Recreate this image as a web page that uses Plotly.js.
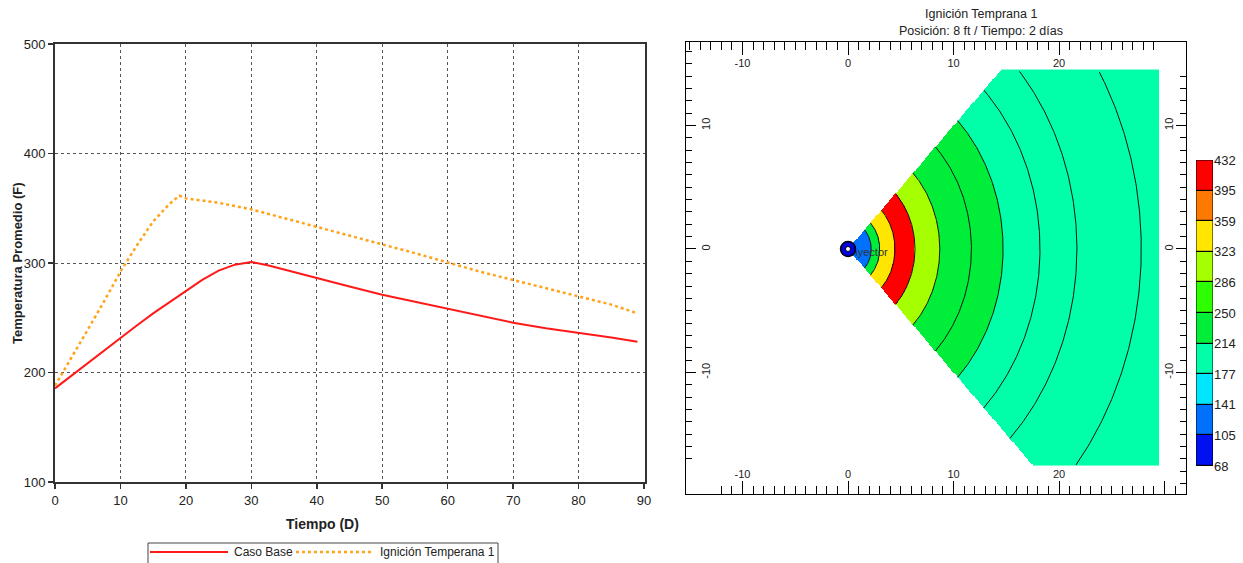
<!DOCTYPE html>
<html>
<head>
<meta charset="utf-8">
<script src="https://cdn.plot.ly/plotly-3.0.1.min.js"></script>
<style>html,body{margin:0;padding:0;background:#fff;}#chart{width:1243px;height:563px;}</style>
</head>
<body>
<div id="chart"></div>
<script>
// ---------- Left chart data ----------
const days = [0, 2.5, 5, 7.5, 10, 12.5, 15, 17.5, 19, 20, 22.5, 25, 27.5, 30, 32.5, 35, 40, 45, 50, 55, 60, 65, 70, 75, 80, 85, 89];
const casoBase = [185.5, 197, 208.5, 220, 232, 243, 254, 264, 270, 274, 284.5, 293, 298.5, 301, 298, 294, 286, 278.5, 271, 264.5, 258, 251.5, 245.5, 240.5, 236.3, 232, 228];
const ignicion = [188, 213, 239, 265, 292, 316, 338, 354, 361.5, 359, 357, 355, 352, 349, 345, 341, 333.5, 325.5, 317.5, 309, 300.5, 292, 284.5, 277, 269.5, 262, 254];
const seriesNames = ['Caso Base', 'Ignición Temperana 1'];
const seriesColors = ['#FF1A1A', '#FFA31A'];

// ---------- Right map data ----------
const levelValues = [68, 104.4, 140.8, 177.2, 213.6, 250, 286.4, 322.8, 359.2, 395.6, 432];
const levelLabels = ['68', '105', '141', '177', '214', '250', '286', '323', '359', '395', '432'];
const levelColors = ['#0010F0', '#0070FF', '#00E6FF', '#00FFA8', '#00EE3A', '#2EFF00', '#A6FF00', '#FFE600', '#FF7800', '#FF0000'];
// radial temperature bands around the injector (outer radius in ft, temperature F)
const bandOuterRadius = [0.7, 2.2, 3.0, 4.45, 6.35, 8.7, 11.7, 14.7, 40];
const bandTemp = [86, 123, 232, 341, 414, 305, 232, 232, 196];
// contour lines (radius in ft)
const contourRadii = [0.7, 2.2, 3.0, 4.45, 6.35, 8.7, 11.7, 14.7, 18.2, 21.7, 27.8];
// simulated grid extent
const gridXMax = 29.5, gridYMax = 14.5, gridYMin = -17.57, gridStep = 0.1;
// map tick labels
const mapXTicks = [-10, 0, 10, 20, 30];
const mapXTickText = ['-10', '0', '10', '20', ''];
const mapYTicks = [-10, 0, 10];
const mapYTickText = ['-10', '0', '10'];

const W = 1243, H = 563;
const px = v => v / W;
const py = v => 1 - v / H;

const narrow = 'Liberation Sans Narrow, Arial Narrow, Liberation Sans, Arial, sans-serif';
const arial = 'Liberation Sans, Arial, sans-serif';

// heatmap grid
const gx = [], gy = [];
for (let i = 0; i * gridStep < gridXMax - 1e-9; i++) gx.push(+(gridStep / 2 + i * gridStep).toFixed(3));
for (let j = 0; gridYMin + j * gridStep < gridYMax - 1e-9; j++) gy.push(+(gridYMin + gridStep / 2 + j * gridStep).toFixed(3));
function tempAt(r) {
  for (let k = 0; k < bandOuterRadius.length; k++) if (r <= bandOuterRadius[k]) return bandTemp[k];
  return bandTemp[bandTemp.length - 1];
}
const gz = gy.map(y => gx.map(x => (Math.abs(y) <= x ? tempAt(Math.hypot(x, y)) : null)));

const cscale = [];
levelColors.forEach((c, i) => { cscale.push([i / 10, c]); cscale.push([(i + 1) / 10, c]); });

// contour arcs
const ax = [], ay = [];
contourRadii.forEach(r => {
  for (let d = -45; d <= 45.001; d += 0.5) {
    const t = d * Math.PI / 180;
    const x = r * Math.cos(t), y = r * Math.sin(t);
    if (y <= gridYMax && y >= gridYMin && x <= gridXMax) { ax.push(x); ay.push(y); }
    else { ax.push(null); ay.push(null); }
  }
  ax.push(null); ay.push(null);
});

const traces = [
  { x: days, y: casoBase, name: seriesNames[0], type: 'scatter', mode: 'lines',
    line: { color: seriesColors[0], width: 2 }, xaxis: 'x', yaxis: 'y' },
  { x: days, y: ignicion, name: seriesNames[1], type: 'scatter', mode: 'lines',
    line: { color: seriesColors[1], width: 2.5, dash: 'dot' }, xaxis: 'x', yaxis: 'y' },
  { type: 'heatmap', x: gx, y: gy, z: gz, colorscale: cscale, zmin: 68, zmax: 432,
    showscale: false, hoverinfo: 'skip', xaxis: 'x2', yaxis: 'y2', showlegend: false },
  { x: ax, y: ay, type: 'scatter', mode: 'lines', line: { color: '#111', width: 1 },
    hoverinfo: 'skip', showlegend: false, xaxis: 'x2', yaxis: 'y2', connectgaps: false },
  { x: [0.05], y: [-0.35], type: 'scatter', mode: 'text', text: ['Inyector'], textposition: 'middle right',
    textfont: { family: narrow, size: 11, color: '#333' }, showlegend: false, hoverinfo: 'skip', xaxis: 'x2', yaxis: 'y2' },
  { x: [0], y: [0], type: 'scatter', mode: 'markers',
    marker: { size: 15, color: '#0000E0', line: { color: '#000', width: 1.5 } },
    showlegend: false, hoverinfo: 'skip', xaxis: 'x2', yaxis: 'y2' },
  { x: [0], y: [0], type: 'scatter', mode: 'markers',
    marker: { size: 5, color: '#fff', line: { color: '#000', width: 1 } },
    showlegend: false, hoverinfo: 'skip', xaxis: 'x2', yaxis: 'y2' },
  // overlay axes (top / right labels)
  { x: [0], y: [0], type: 'scatter', mode: 'markers', marker: { opacity: 0 },
    showlegend: false, hoverinfo: 'skip', xaxis: 'x3', yaxis: 'y3' },
  // colour bar
  { type: 'heatmap', x: [0, 1], y: levelValues, z: levelValues.slice(0, 10).map((v, i) => [(v + levelValues[i + 1]) / 2]),
    colorscale: cscale, zmin: 68, zmax: 432, showscale: false, ygap: 1.2, hoverinfo: 'skip',
    xaxis: 'x5', yaxis: 'y5', showlegend: false }
];

const mapX = [-15.36, 32.04], mapY = [-19.84, 16.76];
const mapTickFont = { family: narrow, size: 11, color: '#222' };
const mapAxisCommon = {
  showgrid: false, zeroline: false, showline: true, linecolor: '#000', linewidth: 1,
  ticks: 'inside', tickcolor: '#000', tickwidth: 1, tickmode: 'array',
  ticklabelposition: 'inside', tickfont: mapTickFont, fixedrange: true
};
const xMinor = { dtick: 1, tick0: 0, ticklen: 8, ticks: 'inside', tickcolor: '#000', tickwidth: 1 };
const yMinor = { dtick: 1, tick0: 0, ticklen: 6, ticks: 'inside', tickcolor: '#000', tickwidth: 1 };

// legend (drawn in the reference's boxed style, clipped at the bottom edge)
const legendY = py(552);
const legendShapes = [
  { type: 'rect', xref: 'paper', yref: 'paper', x0: px(148), x1: px(498), y0: py(575), y1: py(543),
    fillcolor: '#fff', line: { color: '#444', width: 1 }, layer: 'above' },
  { type: 'line', xref: 'paper', yref: 'paper', x0: px(150), x1: px(228), y0: legendY, y1: legendY,
    line: { color: seriesColors[0], width: 2 }, layer: 'above' },
  { type: 'line', xref: 'paper', yref: 'paper', x0: px(296), x1: px(374), y0: legendY, y1: legendY,
    line: { color: seriesColors[1], width: 2.5, dash: 'dot' }, layer: 'above' }
];
const legendAnnotations = [
  { text: seriesNames[0], xref: 'paper', yref: 'paper', x: px(232), y: legendY, xanchor: 'left', yanchor: 'middle',
    showarrow: false, font: { family: narrow, size: 12, color: '#222' } },
  { text: seriesNames[1], xref: 'paper', yref: 'paper', x: px(378), y: legendY, xanchor: 'left', yanchor: 'middle',
    showarrow: false, font: { family: narrow, size: 12, color: '#222' } }
];

const layout = {
  width: W, height: H, margin: { l: 0, r: 0, t: 0, b: 0, autoexpand: false },
  paper_bgcolor: '#fff', plot_bgcolor: 'rgba(0,0,0,0)', showlegend: false,
  xaxis: {
    domain: [px(55), px(645)], range: [0, 90.15], anchor: 'y',
    showline: true, linecolor: '#333', linewidth: 2, mirror: true,
    ticks: 'outside', ticklen: 5, tickcolor: '#333', tickwidth: 1.5, dtick: 10, tick0: 0,
    showgrid: true, gridcolor: '#555', griddash: 'dot', gridwidth: 1, zeroline: false,
    tickfont: { family: arial, size: 13, color: '#222' }
  },
  yaxis: {
    domain: [py(482), py(44)], range: [100, 500], anchor: 'x',
    showline: true, linecolor: '#333', linewidth: 2, mirror: true,
    ticks: 'outside', ticklen: 5, tickcolor: '#333', tickwidth: 1.5, dtick: 100,
    showgrid: true, gridcolor: '#555', griddash: 'dot', gridwidth: 1, zeroline: false,
    tickfont: { family: arial, size: 13, color: '#222' }
  },
  xaxis2: Object.assign({}, mapAxisCommon, {
    domain: [px(686), px(1186)], range: mapX, anchor: 'y2', side: 'bottom', ticklen: 13,
    tickvals: mapXTicks, ticktext: mapXTickText, minor: xMinor
  }),
  yaxis2: Object.assign({}, mapAxisCommon, {
    domain: [py(494), py(42)], range: mapY, anchor: 'x2', side: 'left', ticklen: 10, tickangle: -90,
    tickvals: mapYTicks, ticktext: mapYTickText, minor: yMinor
  }),
  xaxis3: Object.assign({}, mapAxisCommon, {
    overlaying: 'x2', range: mapX, anchor: 'y3', side: 'top', ticklen: 13,
    tickvals: mapXTicks, ticktext: mapXTickText, minor: xMinor, ticklabelstandoff: 4
  }),
  yaxis3: Object.assign({}, mapAxisCommon, {
    overlaying: 'y2', range: mapY, anchor: 'x3', side: 'right', ticklen: 10, tickangle: -90,
    tickvals: mapYTicks, ticktext: mapYTickText, minor: yMinor
  }),
  xaxis5: { domain: [px(1196), px(1213)], range: [0, 1], anchor: 'y5', visible: false, fixedrange: true },
  yaxis5: {
    domain: [py(466), py(160)], range: [68, 432], anchor: 'x5', side: 'right',
    tickvals: levelValues, ticktext: levelLabels, ticks: '', showgrid: false, zeroline: false,
    showline: false, tickfont: { family: narrow, size: 13, color: '#222' }, fixedrange: true
  },
  shapes: [
    { type: 'rect', xref: 'x5', yref: 'y5', x0: 0, x1: 1, y0: 68, y1: 432,
      fillcolor: '#000', line: { color: '#000', width: 1 }, layer: 'below' },
    { type: 'rect', xref: 'x5', yref: 'y5', x0: 0, x1: 1, y0: 68, y1: 432,
      fillcolor: 'rgba(0,0,0,0)', line: { color: '#000', width: 1 }, layer: 'above' }
  ].concat(legendShapes),
  annotations: [
    { text: '<b>Temperatura Promedio (F)</b>', xref: 'paper', yref: 'paper', x: px(17), y: py(263),
      xanchor: 'center', yanchor: 'middle', textangle: -90, showarrow: false,
      font: { family: arial, size: 13, color: '#222' } },
    { text: '<b>Tiempo (D)</b>', xref: 'paper', yref: 'paper', x: px(322), y: py(524),
      xanchor: 'center', yanchor: 'middle', showarrow: false, font: { family: arial, size: 14, color: '#222' } },
    { text: 'Ignición Temprana 1', xref: 'paper', yref: 'paper', x: px(981), y: py(14),
      xanchor: 'center', yanchor: 'middle', showarrow: false, font: { family: narrow, size: 12.5, color: '#222' } },
    { text: 'Posición: 8 ft / Tiempo: 2 días', xref: 'paper', yref: 'paper', x: px(981), y: py(31),
      xanchor: 'center', yanchor: 'middle', showarrow: false, font: { family: narrow, size: 12.5, color: '#222' } }
  ].concat(legendAnnotations)
};

Plotly.newPlot('chart', traces, layout, { staticPlot: true, displayModeBar: false });
</script>
</body>
</html>
